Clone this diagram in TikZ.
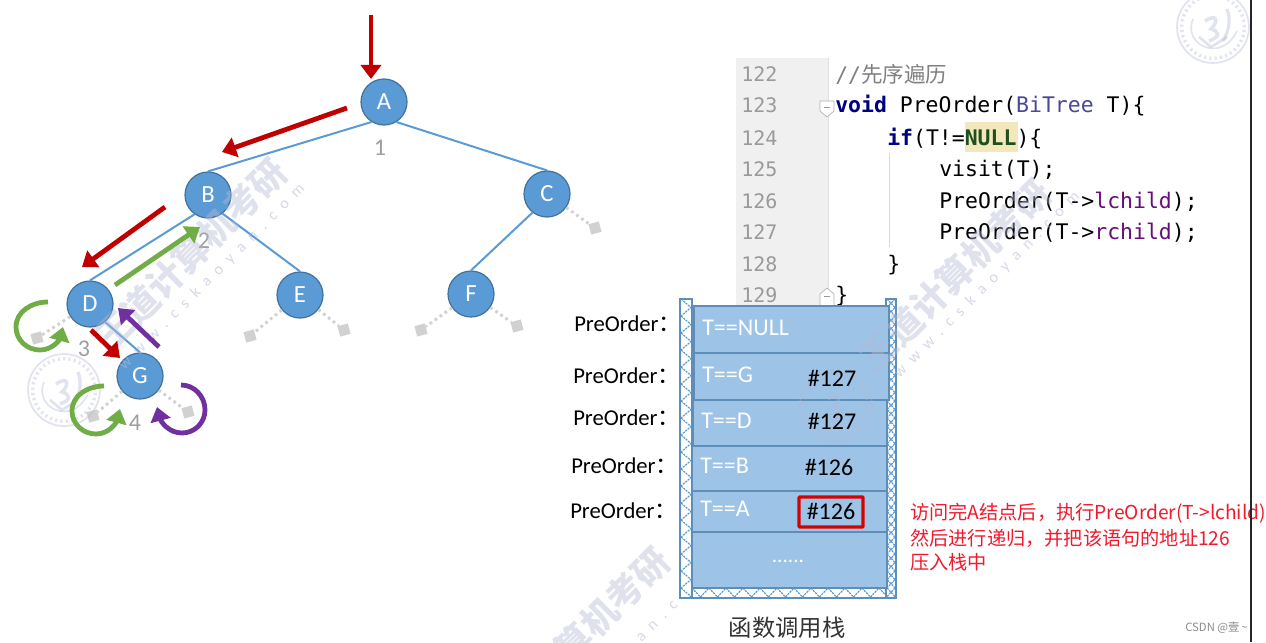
\documentclass[tikz,border=0pt]{standalone}
\usepackage{fontspec}
\setmainfont{Carlito}
\newfontfamily\cjkf{Noto Sans CJK SC}
\newfontfamily\monof{DejaVu Sans Mono}
\newfontfamily\urlf[LetterSpace=53]{Carlito}
\usetikzlibrary{arrows.meta}
\definecolor{nodeblue}{HTML}{5B9BD5}
\definecolor{nodeedge}{HTML}{41719C}
\definecolor{cellblue}{HTML}{9DC3E6}
\definecolor{celledge}{HTML}{5E8DB8}
\definecolor{arrred}{HTML}{C00000}
\definecolor{arrgreen}{HTML}{70AD47}
\definecolor{arrpurple}{HTML}{7030A0}
\definecolor{wm}{HTML}{B4B9D6}
\definecolor{gutter}{HTML}{F0F0F0}
\definecolor{lineno}{HTML}{9A9A9A}
\definecolor{kwblue}{HTML}{000080}
\definecolor{typeblue}{HTML}{4A4A90}
\definecolor{fieldpurple}{HTML}{660E7A}
\definecolor{nullgreen}{HTML}{1F4F1F}
\definecolor{hl}{HTML}{F3E8BC}
\definecolor{cmt}{HTML}{808080}
\definecolor{notered}{HTML}{F01A2E}
\newcommand{\fs}[1]{\fontsize{#1}{#1}\selectfont}
\tikzset{
  x=0.75pt,y=-0.75pt,
  treenode/.style={circle,draw=nodeedge,line width=0.9pt,fill=nodeblue,minimum size=34.5pt,inner sep=0pt,text=white,font=\fs{18.5}},
  treeedge/.style={draw=nodeblue,line width=1.5pt},
  nulledge/.style={draw=black!18,line width=2.2pt,dash pattern=on 2pt off 2.6pt},
  nullbox/.style={fill=black!18,minimum size=8pt,inner sep=0pt,rotate=15},
  order/.style={text=black!38,font=\fs{18},inner sep=0pt},
  bigtip/.style={-{Triangle[length=10.5pt,width=15pt]}},
  redarr/.style={draw=arrred,line width=3.6pt,bigtip},
  greenarr/.style={draw=arrgreen,line width=3.6pt,bigtip},
  purplearr/.style={draw=arrpurple,line width=3.6pt,bigtip},
  cell/.style={draw=celledge,line width=1.3pt,fill=cellblue,inner sep=0pt,anchor=north west},
  celltext/.style={text=white,font=\fs{18},inner sep=0pt,anchor=west},
  addr/.style={text=black,font=\fs{18},inner sep=0pt},
  poLabel/.style={text=black,font=\fs{17},inner sep=0pt,anchor=west},
  hatchbar/.style={draw=celledge,line width=1.2pt,fill=white},
  zig/.style={draw=nodeblue,line width=.9pt,dash pattern=on 1.6pt off .7pt},
  ln/.style={text=lineno,font=\monof\fs{15},inner sep=0pt,anchor=base west},
  code/.style={text=black,font=\monof\fs{16.1},inner sep=0pt,anchor=base west},
  notetext/.style={text=notered,font=\cjkf\fs{14.4},inner sep=0pt,anchor=west},
  wmtext/.style={text=wm,font=\cjkf\bfseries\fs{27},inner sep=0pt,rotate=45,opacity=.42},
  wmurl/.style={text=wm,font=\urlf\fs{12},inner sep=0pt,rotate=45,opacity=.55},
  stampline/.style={draw=wm,opacity=.4},
}
\begin{document}
\begin{tikzpicture}
\useasboundingbox (0,0) rectangle (1266,642);
\fill[white] (0,0) rectangle (1266,642);

% code panel
\fill[gutter] (736,58) rectangle (828,305);
\draw[black!12,line width=.6pt] (828,58) -- (828,305);
\fill[hl] (965,122) rectangle (1018,152);
\draw[black!15,line width=.6pt] (889,153) -- (889,247);
\foreach \n/\y in {122/82,123/113,124/145,125/176,126/208,127/239,128/271,129/302}
  \node[ln] (ln\n) at (741,\y) {\n};
\draw[black!30,fill=white,line width=.5pt] (820,101) -- (834,101) -- (834,111) -- (827,117) -- (820,111) -- cycle;
\draw[black!40,line width=.5pt] (824,107) -- (830,107);
\draw[black!30,fill=white,line width=.5pt] (820,305) -- (820,294) -- (827,288) -- (834,294) -- (834,305);
\draw[black!40,line width=.5pt] (824,296) -- (830,296);
\node[code] (c122) at (835,83) {\textcolor{cmt}{//{\cjkf 先序遍历}}};
\node[code] (c123) at (835,113) {\textcolor{kwblue}{\bfseries void} PreOrder(\textcolor{typeblue}{BiTree} T)\{};
\node[code] (c124) at (887,145) {\textcolor{kwblue}{\bfseries if}(T!=\textcolor{nullgreen}{\bfseries NULL})\{};
\node[code] (c125) at (939,176) {visit(T);};
\node[code] (c126) at (939,208) {PreOrder(T->\textcolor{fieldpurple}{lchild});};
\node[code] (c127) at (939,239) {PreOrder(T->\textcolor{fieldpurple}{rchild});};
\node[code] (c128) at (887,271) {\}};
\node[code] (c129) at (835,302) {\}};

% tree nodes
\node[treenode] (A) at (384,102) {A};
\node[treenode] (B) at (208,195) {B};
\node[treenode] (C) at (547,194) {C};
\node[treenode] (D) at (90,304) {D};
\node[treenode] (E) at (300,295) {E};
\node[treenode] (F) at (471,294) {F};
\node[treenode] (G) at (140,376) {G};
\node[nullbox] (nC) at (595,228) {};
\node[nullbox] (nD) at (37,338) {};
\node[nullbox] (nE1) at (250,336) {};
\node[nullbox] (nE2) at (344,330) {};
\node[nullbox] (nF1) at (421,330) {};
\node[nullbox] (nF2) at (517,326) {};
\node[nullbox] (nG1) at (93,416) {};
\node[nullbox] (nG2) at (188,412) {};
\draw[nulledge] (C) -- (nC);
\draw[nulledge] (D) -- (nD);
\draw[nulledge] (E) -- (nE1);
\draw[nulledge] (E) -- (nE2);
\draw[nulledge] (F) -- (nF1);
\draw[nulledge] (F) -- (nF2);
\draw[nulledge] (G) -- (nG1);
\draw[nulledge] (G) -- (nG2);
\draw[treeedge] (A.-122) -- (B.north);
\draw[treeedge] (A.-58) -- (C.north);
\draw[treeedge] (B.-125) -- (D.north);
\draw[treeedge] (B.-52) -- (E.north);
\draw[treeedge] (C.-128) -- (F.north);
\draw[treeedge] (D.-50) -- (G.north);
\node[order] (o1) at (380,148) {1};
\node[order] (o2) at (204,241) {2};
\node[order] (o3) at (84,349) {3};
\node[order] (o4) at (135,423) {4};

% watermarks (under the arrows)
\begin{scope}
\clip (0,0) rectangle (1266,642);
\node[wmtext] (w1) at (191,254) {王道计算机考研};
\node[wmurl] (u1) at (212,277) {www.cskaoyan.com};
\node[wmtext] (w3) at (574,643) {王道计算机考研};
\node[wmurl] (u3) at (612,666) {www.cskaoyan.com};
\foreach \cx/\cy in {64/390,1213/27}{
\begin{scope}[shift={(\cx,\cy)}]
  \coordinate (sc) at (0,0);
  \draw[stampline,line width=1.3pt] (sc) circle[radius=27pt];
  \draw[stampline,line width=2.6pt,dash pattern=on 1.5pt off 2.5pt] (sc) circle[radius=23.5pt];
  \draw[stampline,line width=1.2pt] (-20,-8) .. controls (-28,12) and (-8,26) .. (8,20) .. controls (14,18) and (20,12) .. (24,4);
  \draw[stampline,line width=2.6pt] (-8,-6) .. controls (4,-14) and (6,-6) .. (-2,2) .. controls (6,4) and (8,10) .. (-4,14);
  \draw[stampline,line width=2.4pt] (10,14) .. controls (16,4) and (18,-8) .. (14,-18);
  \draw[stampline,line width=2pt] (-14,10) -- (-2,20) -- (14,10);
\end{scope}}
\end{scope}

% traversal arrows
\coordinate (r1s) at (371,15);   \coordinate (r1e) at (371,79);
\coordinate (r2s) at (347,108);  \coordinate (r2e) at (222,152);
\coordinate (r3s) at (165,207);  \coordinate (r3e) at (82,267);
\coordinate (g1s) at (115,285);  \coordinate (g1e) at (200,227);
\coordinate (r4s) at (91,330);   \coordinate (r4e) at (120,358);
\coordinate (p1s) at (159,347);  \coordinate (p1e) at (118,308);
\draw[redarr] (r1s) -- (r1e);
\draw[redarr] (r2s) -- (r2e);
\draw[redarr] (r3s) -- (r3e);
\draw[greenarr] (g1s) -- (g1e);
\draw[redarr] (r4s) -- (r4e);
\draw[purplearr] (p1s) -- (p1e);
\coordinate (ga1) at (48,302); \coordinate (ga2) at (16,327); \coordinate (ga3) at (40,350); \coordinate (ga4) at (63,327);
\draw[greenarr] (ga1) to[out=180,in=90] (ga2) to[out=-90,in=180] (ga3) to[out=0,in=-105] (ga4);
\coordinate (gb1) at (104,386); \coordinate (gb2) at (72,411); \coordinate (gb3) at (96,434); \coordinate (gb4) at (120,409);
\draw[greenarr] (gb1) to[out=180,in=90] (gb2) to[out=-90,in=180] (gb3) to[out=0,in=-105] (gb4);
\coordinate (pa1) at (181,385); \coordinate (pa2) at (205,410); \coordinate (pa3) at (182,433); \coordinate (pa4) at (157,407);
\draw[purplearr] (pa1) to[out=0,in=90] (pa2) to[out=-90,in=0] (pa3) to[out=180,in=-75] (pa4);

% stack frame
\filldraw[hatchbar] (680,299) rectangle (692,598);
\filldraw[hatchbar] (886,299) rectangle (896,598);
\filldraw[hatchbar] (692,587) rectangle (886,598);
\begin{scope}
\clip (680,299) rectangle (692,598);
\foreach \y in {299,316,...,598}
  \draw[zig] (681,\y) -- (691,\y+8.5) -- (681,\y+17);
\end{scope}
\begin{scope}
\clip (886,299) rectangle (896,598);
\foreach \y in {299,316,...,598}{
  \draw[zig] (887,\y) -- (895,\y+8.5) -- (887,\y+17);
  \draw[zig] (895,\y) -- (887,\y+8.5) -- (895,\y+17);}
\end{scope}
\begin{scope}
\clip (692,587) rectangle (886,598);
\foreach \x in {692,709,...,886}
  \draw[zig] (\x,588) -- (\x+8.5,597) -- (\x+17,588);
\end{scope}
\draw[celledge,line width=1.2pt] (680,299) rectangle (692,598);
\draw[celledge,line width=1.2pt] (886,299) rectangle (896,598);
\draw[celledge,line width=1.2pt] (680,598) -- (896,598);
\node[cell,minimum width=146.2pt,minimum height=35.2pt] (s1) at (693,305) {};
\node[cell,minimum width=146.2pt,minimum height=35.2pt] (s2) at (693,352) {};
\node[cell,minimum width=145.5pt,minimum height=34.5pt] (s3) at (692,399) {};
\node[cell,minimum width=146.2pt,minimum height=33.7pt] (s4) at (691,445) {};
\node[cell,minimum width=146.2pt,minimum height=30.7pt] (s5) at (691,490) {};
\node[cell,minimum width=146.2pt,minimum height=42pt] (s6) at (691,531) {};
% watermark and faint stamp lying across the stack
\node[wmtext] (w2) at (955,275) {王道计算机考研};
\node[wmurl] (u2) at (987,285) {www.cskaoyan.com};
\begin{scope}[shift={(836,405)}]
  \coordinate (sc) at (0,0);
  \draw[stampline,opacity=.35,line width=1.3pt] (sc) circle[radius=27pt];
  \draw[stampline,opacity=.35,line width=2.6pt,dash pattern=on 1.5pt off 2.5pt] (sc) circle[radius=23.5pt];
  \draw[stampline,opacity=.35,line width=2.6pt] (-8,-6) .. controls (4,-14) and (6,-6) .. (-2,2) .. controls (6,4) and (8,10) .. (-4,14);
\end{scope}
\node[celltext] (t1) at (702,328) {T==NULL};
\node[celltext] (t2) at (702,375) {T==G};
\node[celltext] (t3) at (701,421) {T==D};
\node[celltext] (t4) at (700,466) {T==B};
\node[celltext] (t5) at (700,509) {T==A};
\node[addr] (a2) at (832,378) {\#127};
\node[addr] (a3) at (832,421) {\#127};
\node[addr] (a4) at (829,467) {\#126};
\node[addr] (a5) at (831,511) {\#126};
\node[draw=red!85!black,line width=2.3pt,rounded corners=.5pt,minimum width=48pt,minimum height=22.5pt,inner sep=0pt] (hl) at (831,512) {};
\node[text=white,font=\fs{16},inner sep=0pt] (dots) at (788,561) {......};
\node[poLabel] (p1) at (574,324) {PreOrder{\cjkf ：}};
\node[poLabel] (p2) at (573,376) {PreOrder{\cjkf ：}};
\node[poLabel] (p3) at (573,418) {PreOrder{\cjkf ：}};
\node[poLabel] (p4) at (571,466) {PreOrder{\cjkf ：}};
\node[poLabel] (p5) at (570,511) {PreOrder{\cjkf ：}};
\node[text=black!80,font=\cjkf\fs{17.5},inner sep=0pt] (cap) at (787,628) {函数调用栈};

% note
\node[notetext] (n1) at (910,513) {访问完A结点后，执行PreOrder(T->lchild)};
\node[notetext] (n2) at (910,538) {然后进行递归，并把该语句的地址126};
\node[notetext] (n3) at (910,562) {压入栈中};

% right rule and credit
\coordinate (ruleT) at (1251,0); \coordinate (ruleB) at (1251,642);
\draw[black!85,line width=2.2pt] (ruleT) -- (ruleB);
\node[text=black!45,font=\cjkf\fs{8.5},inner sep=0pt,anchor=west] (csdn) at (1185,628) {CSDN @壹\,\textasciitilde};
\end{tikzpicture}
\end{document}
